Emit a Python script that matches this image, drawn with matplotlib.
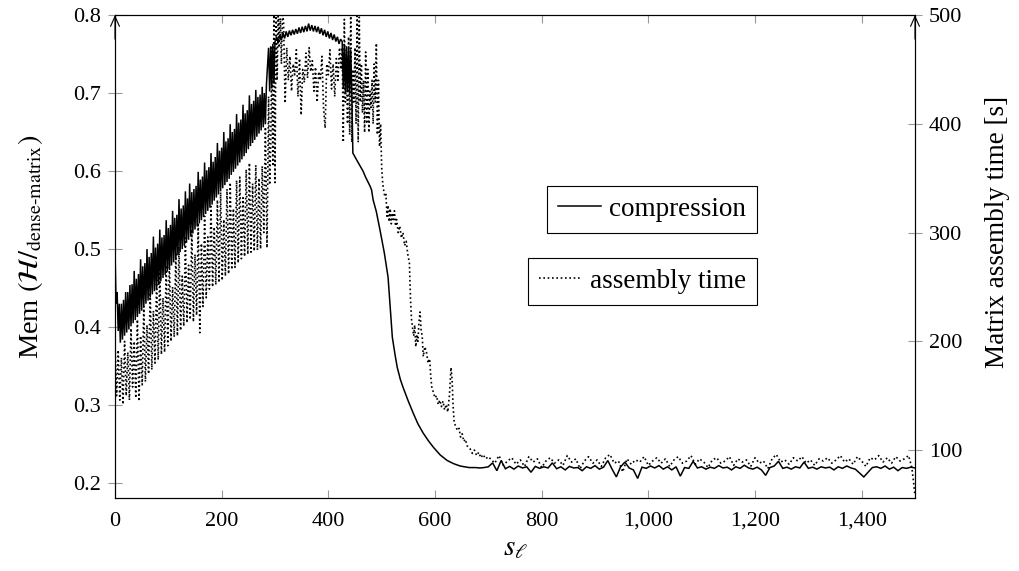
import numpy as np
import matplotlib
matplotlib.use("Agg")
import matplotlib.pyplot as plt
from matplotlib.ticker import FuncFormatter
from matplotlib.lines import Line2D

plt.rcParams["font.family"] = "Liberation Serif"
plt.rcParams["mathtext.fontset"] = "stix"
plt.rcParams["font.size"] = 16

# ---------------- compression (left axis) ----------------
# sawtooth ramp, s = 0, 2, ..., 284
mem_ramp = [0.500, 0.430, 0.445, 0.395, 0.430, 0.380, 0.430, 0.384, 0.435, 0.389,
            0.445, 0.393, 0.445, 0.397, 0.454, 0.401, 0.455, 0.405, 0.472, 0.409,
            0.462, 0.413, 0.468, 0.417, 0.487, 0.421, 0.478, 0.426, 0.482, 0.430,
            0.500, 0.434, 0.490, 0.438, 0.495, 0.442, 0.516, 0.446, 0.502, 0.450,
            0.507, 0.454, 0.525, 0.459, 0.515, 0.463, 0.518, 0.467, 0.537, 0.471,
            0.527, 0.475, 0.531, 0.479, 0.549, 0.483, 0.540, 0.487, 0.544, 0.492,
            0.564, 0.496, 0.552, 0.500, 0.556, 0.504, 0.574, 0.508, 0.565, 0.512,
            0.584, 0.516, 0.573, 0.520, 0.577, 0.525, 0.581, 0.529, 0.599, 0.533,
            0.589, 0.537, 0.593, 0.541, 0.611, 0.545, 0.601, 0.549, 0.605, 0.553,
            0.623, 0.557, 0.612, 0.562, 0.618, 0.566, 0.636, 0.570, 0.626, 0.574,
            0.630, 0.578, 0.650, 0.582, 0.638, 0.586, 0.642, 0.590, 0.660, 0.595,
            0.650, 0.599, 0.654, 0.603, 0.673, 0.607, 0.662, 0.611, 0.666, 0.615,
            0.685, 0.619, 0.674, 0.623, 0.678, 0.628, 0.697, 0.632, 0.686, 0.636,
            0.690, 0.640, 0.704, 0.644, 0.695, 0.648, 0.698, 0.652, 0.708, 0.656,
            0.700, 0.660, 0.712]
# jump band, s = 288, 290, ..., 300
mem_jump = [0.758, 0.702, 0.760, 0.706, 0.763, 0.712, 0.766]
# plateau, s = 303, 306, ..., 423
mem_top = [0.772, 0.764, 0.775, 0.768, 0.777, 0.770, 0.779, 0.772, 0.780, 0.774,
           0.781, 0.775, 0.782, 0.776, 0.784, 0.777, 0.785, 0.778, 0.786, 0.779,
           0.789, 0.780, 0.787, 0.779, 0.786, 0.778, 0.785, 0.776, 0.783, 0.774,
           0.781, 0.772, 0.779, 0.770, 0.777, 0.768, 0.775, 0.766, 0.772, 0.763,
           0.769]
# dense band before the drop, s = 426, 428, ..., 444
mem_band = [0.766, 0.705, 0.763, 0.700, 0.760, 0.702, 0.758, 0.698, 0.755, 0.700]
# decay
s_mem_fall = [446, 450, 455, 460, 465, 470, 475, 478, 481, 484, 490, 497, 505, 512,
              516, 520, 525, 529, 535, 540, 550, 559, 568, 578, 588, 597, 610, 623,
              635, 647, 656, 664]
mem_fall = [0.623, 0.618, 0.612, 0.606, 0.600, 0.592, 0.585, 0.581, 0.576, 0.563,
            0.548, 0.524, 0.495, 0.464, 0.425, 0.387, 0.365, 0.349, 0.333, 0.323,
            0.305, 0.290, 0.276, 0.264, 0.254, 0.246, 0.236, 0.229, 0.225, 0.222,
            0.221, 0.220]
# flat tail, s = 668, 676, ..., 1500
mem_flat = [0.220, 0.220, 0.2195, 0.220, 0.221, 0.226, 0.216, 0.229, 0.2185, 0.2215,
            0.218, 0.222, 0.2195, 0.221, 0.214, 0.2215, 0.219, 0.221, 0.2195, 0.226,
            0.2185, 0.221, 0.217, 0.2215, 0.2195, 0.220, 0.216, 0.221, 0.219, 0.2225,
            0.218, 0.2205, 0.229, 0.218, 0.208, 0.221, 0.227, 0.2195, 0.217, 0.206,
            0.2205, 0.219, 0.222, 0.2195, 0.2225, 0.218, 0.221, 0.217, 0.221, 0.209,
            0.220, 0.219, 0.228, 0.2195, 0.221, 0.218, 0.2205, 0.219, 0.2225, 0.2195,
            0.2205, 0.217, 0.221, 0.219, 0.223, 0.2195, 0.218, 0.2205, 0.217, 0.210,
            0.220, 0.222, 0.228, 0.219, 0.2205, 0.218, 0.221, 0.2195, 0.227, 0.219,
            0.2205, 0.218, 0.221, 0.2195, 0.2205, 0.217, 0.221, 0.219, 0.222, 0.2195,
            0.218, 0.213, 0.208, 0.214, 0.220, 0.221, 0.219, 0.222, 0.218, 0.2205,
            0.216, 0.220, 0.219, 0.2205, 0.2195]

# ---------------- assembly time (right axis) ----------------
# s = 0, 3, ..., 285
time_ramp = [198, 150, 192, 146, 185, 142, 200, 150, 190, 146,
             212, 158, 200, 148, 220, 145, 205, 160, 232, 163,
             215, 170, 245, 174, 228, 180, 258, 183, 266, 188,
             240, 190, 270, 196, 275, 200, 250, 204, 282, 205,
             287, 210, 260, 214, 295, 217, 270, 220, 303, 218,
             280, 224, 309, 208, 290, 232, 315, 240, 296, 248,
             324, 250, 305, 252, 330, 254, 337, 256, 312, 260,
             340, 262, 346, 266, 322, 268, 348, 272, 351, 276,
             332, 278, 358, 280, 364, 282, 345, 283, 362, 284,
             350, 285, 361, 300, 397, 286]
# s = 288, 290, ..., 314
time_rise = [425, 344, 380, 470, 361, 500, 346, 505, 440, 505, 470, 497, 455, 500]
# s = 316, 319, ..., 424
time_plateau = [495, 419, 470, 440, 462, 430, 455, 445, 468, 425,
                460, 408, 450, 438, 465, 442, 470, 448, 458, 430,
                452, 420, 448, 440, 462, 415, 396, 455, 445, 468,
                432, 455, 425, 460, 440, 470, 450]
# s = 426, 428, ..., 506
time_spikes = [470, 383, 496, 420, 455, 400, 480, 390, 505, 383,
               450, 420, 470, 400, 505, 383, 498, 420, 455, 410,
               440, 392, 466, 400, 450, 392, 430, 415, 440, 400,
               455, 420, 474, 390, 440, 379, 400, 360, 345, 338,
               333]
s_time_fall = [508, 510, 512, 514, 516, 518, 520, 522, 524, 526, 528,
               531, 534, 537, 540, 543, 546, 549, 552,
               554, 556, 558, 560, 562, 564, 566, 568, 570, 572, 574, 576, 578,
               581, 584, 587, 590, 592, 594,
               597, 600, 603, 606, 609, 612, 615, 618, 621, 624, 627,
               630, 632, 634, 636,
               639, 642, 645, 648, 651, 654, 657, 660, 663, 666,
               670, 674, 678, 682, 686, 690, 695, 700]
time_fall = [335, 315, 325, 310, 322, 308, 318, 312, 320, 306, 312,
             300, 306, 295, 300, 288, 292, 280, 272,
             240, 220, 212, 205, 215, 195, 205, 200, 218, 227, 210, 205, 186,
             195, 190, 180, 184, 168, 158,
             153, 148, 150, 142, 146, 140, 145, 137, 142, 135, 150,
             176, 165, 140, 125,
             122, 118, 120, 112, 115, 108, 110, 104, 103, 101,
             97, 100, 95, 98, 93, 96, 92, 94]
# s = 704, 712, ..., 1488
time_flat = [92, 88, 95, 86, 90, 93, 87, 91, 85, 94,
             89, 92, 84, 90, 93, 88, 91, 86, 95, 89,
             92, 83, 90, 94, 88, 91, 85, 93, 96, 88,
             90, 80, 92, 87, 91, 89, 94, 86, 90, 93,
             88, 92, 85, 91, 94, 88, 90, 95, 87, 92,
             89, 84, 91, 93, 88, 90, 94, 86, 92, 89,
             91, 85, 93, 88, 90, 83, 92, 96, 89, 91,
             87, 93, 90, 94, 88, 91, 86, 92, 90, 93,
             88, 91, 95, 89, 92, 87, 94, 90, 85, 93,
             91, 95, 89, 93, 88, 94, 90, 92, 95]
s_time_end = [1494, 1497, 1500]
time_end = [84, 72, 58]

x_ticks = [0, 200, 400, 600, 800, 1000, 1200, 1400]
mem_ticks = [0.2, 0.3, 0.4, 0.5, 0.6, 0.7, 0.8]
time_ticks = [100, 200, 300, 400, 500]


def grid(start, step, vals):
    return start + step * np.arange(len(vals))


s_mem = np.concatenate([grid(0, 2, mem_ramp), grid(288, 2, mem_jump),
                        grid(303, 3, mem_top), grid(426, 2, mem_band),
                        s_mem_fall, grid(668, 8, mem_flat)])
mem = np.concatenate([mem_ramp, mem_jump, mem_top, mem_band, mem_fall, mem_flat])

s_time = np.concatenate([grid(0, 3, time_ramp), grid(288, 2, time_rise),
                         grid(316, 3, time_plateau), grid(426, 2, time_spikes),
                         s_time_fall, grid(704, 8, time_flat), s_time_end])
time = np.concatenate([time_ramp, time_rise, time_plateau, time_spikes,
                       time_fall, time_flat, time_end])

fig = plt.figure(figsize=(10.2, 5.71), dpi=100)
ax = fig.add_axes([115 / 1020, 1 - 498 / 571, 800 / 1020, 483 / 571])
ax2 = ax.twinx()

ax.plot(s_mem, mem, color="black", lw=1.1, solid_joinstyle="miter")
ax2.plot(s_time, time, color="black", lw=1.2, linestyle=(0, (1, 1.6)),
         dash_capstyle="butt")

ax.set_xlim(0, 1500)
ax.set_ylim(0.181, 0.8)
ax2.set_ylim(56, 500)

ax.set_xticks(x_ticks)
ax.xaxis.set_major_formatter(FuncFormatter(lambda v, p: f"{v:,.0f}"))
ax.set_yticks(mem_ticks)
ax.yaxis.set_major_formatter(FuncFormatter(lambda v, p: f"{v:.1f}"))
ax2.set_yticks(time_ticks)

tick_col = "0.6"
ax.tick_params(axis="x", direction="in", length=6, width=0.8, color=tick_col,
               top=True, pad=10)
ax.tick_params(axis="y", direction="inout", length=10, width=0.8,
               color=tick_col, pad=5)
ax2.tick_params(axis="y", direction="inout", length=10, width=0.8,
                color=tick_col, pad=5)

for a in (ax, ax2):
    for sp in a.spines.values():
        sp.set_color("black")
        sp.set_linewidth(0.8)

# arrow tips on both vertical axes
for xf in (0, 1):
    ax2.annotate("", xy=(xf, 1.0), xytext=(xf, 0.95), xycoords="axes fraction",
                 arrowprops=dict(arrowstyle="->,head_length=0.45,head_width=0.2",
                                 lw=0.8, color="black", shrinkA=0, shrinkB=0),
                 annotation_clip=False)

label_size = 19.5
ax.set_xlabel(r"$s_\ell$", fontsize=21, labelpad=3)
ax.set_ylabel(r"Mem $\left(\mathcal{H}/_{\text{dense-matrix}}\right)$",
              fontsize=20.5)
ax.yaxis.set_label_coords(-0.088, 0.52)
ax2.set_ylabel("Matrix assembly time [s]", fontsize=label_size)
ax2.yaxis.set_label_coords(1.0875, 0.55)

h1 = Line2D([], [], color="black", lw=1.1)
h2 = Line2D([], [], color="black", lw=1.2, linestyle=(0, (1, 1.6)))
common = dict(fancybox=False, edgecolor="black", framealpha=1, fontsize=label_size,
              handlelength=1.6, handletextpad=0.3, borderpad=0.4,
              borderaxespad=0, loc="upper right")
leg1 = ax2.legend([h1], ["compression"], bbox_to_anchor=(0.8025, 0.646), **common)
leg1.get_frame().set_linewidth(0.8)
ax2.add_artist(leg1)
leg2 = ax2.legend([h2], ["assembly time"], bbox_to_anchor=(0.8025, 0.497), **common)
leg2.get_frame().set_linewidth(0.8)

fig.savefig("out.png", dpi=100)
